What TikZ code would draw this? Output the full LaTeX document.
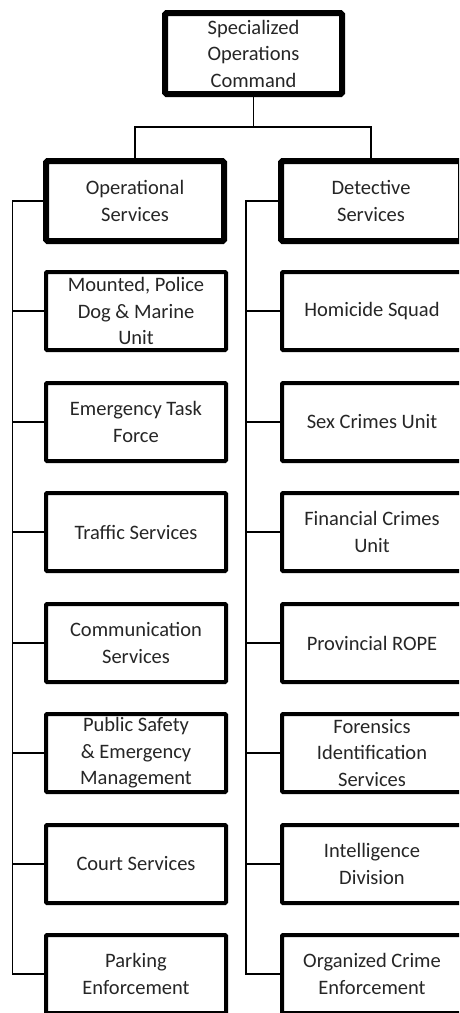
\documentclass[tikz,border=0pt]{standalone}
\usepackage{fontspec}
\setmainfont{Carlito}
\begin{document}
\begin{tikzpicture}[x=1pt,y=-1pt,
  every node/.style={font=\fontsize{20.5}{26.5}\selectfont, text=black!85, align=center, inner sep=0pt},
  headbox/.style={draw=black, line width=6pt, rounded corners=1.5pt, fill=white},
  unitbox/.style={draw=black, line width=4pt, rounded corners=1pt, fill=white,
                  minimum width=180pt, minimum height=78pt},
  link/.style={draw=black, line width=1.8pt}]
\useasboundingbox (0,0) rectangle (459,1013);
\clip (0,0) rectangle (459,1013);

% command and its two services
\node[headbox, minimum width=177pt, minimum height=81pt] (cmd) at (253.5,53.5)
  {Specialized\\Operations\\Command};
\node[headbox, minimum width=178pt, minimum height=80pt] (ops) at (135,201)
  {Operational\\Services};
\node[headbox, minimum width=180pt, minimum height=80pt] (det) at (371,201)
  {Detective\\Services};

% operational units
\node[unitbox] (o1) at (136,311) {Mounted, Police\\Dog \& Marine\\Unit};
\node[unitbox] (o2) at (136,422) {Emergency Task\\Force};
\node[unitbox] (o3) at (136,532) {Traffic Services};
\node[unitbox] (o4) at (136,643) {Communication\\Services};
\node[unitbox] (o5) at (136,753) {Public Safety\\\& Emergency\\Management};
\node[unitbox] (o6) at (136,864) {Court Services};
\node[unitbox] (o7) at (136,974) {Parking\\Enforcement};

% detective units
\node[unitbox] (d1) at (372,311) {Homicide Squad};
\node[unitbox] (d2) at (372,422) {Sex Crimes Unit};
\node[unitbox] (d3) at (372,532) {Financial Crimes\\Unit};
\node[unitbox] (d4) at (372,643) {Provincial ROPE};
\node[unitbox] (d5) at (372,753) {Forensics\\Identification\\Services};
\node[unitbox] (d6) at (372,864) {Intelligence\\Division};
\node[unitbox] (d7) at (372,974) {Organized Crime\\Enforcement};

% connectors
\coordinate (bus) at (253.5,127);
\coordinate (ltrunk) at (12.5,201);
\coordinate (rtrunk) at (246,201);
\draw[link] (cmd.south) -- (bus);
\draw[link] (ops.north) |- (bus) -| (det.north);
\draw[link] (ops.west) -- (ltrunk) |- (o7.west);
\draw[link] (det.west) -- (rtrunk) |- (d7.west);
\foreach \i in {1,...,6}{
  \draw[link] (ltrunk |- o\i.west) -- (o\i.west);
  \draw[link] (rtrunk |- d\i.west) -- (d\i.west);
}
\end{tikzpicture}
\end{document}
